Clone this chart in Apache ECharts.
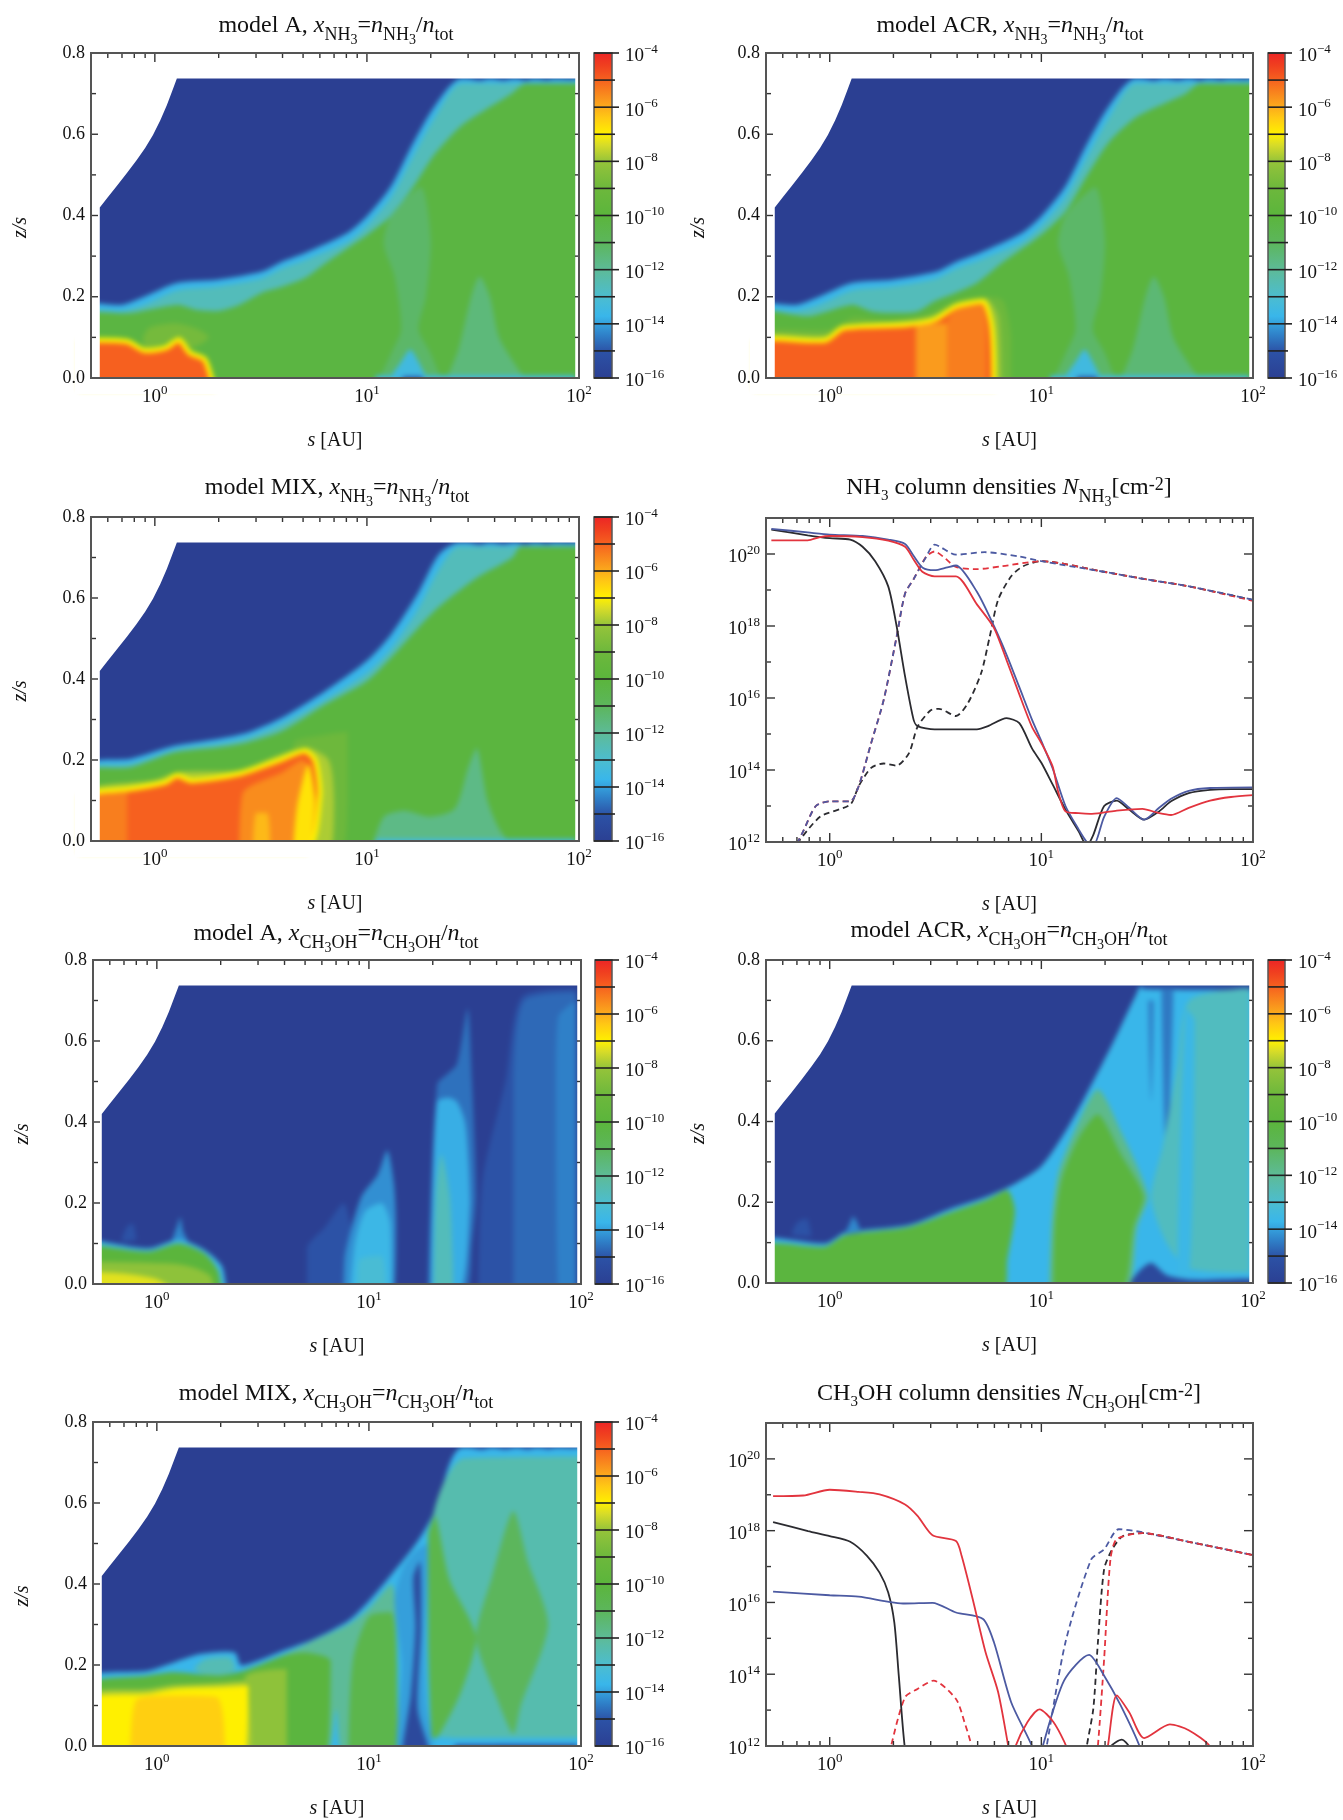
<!DOCTYPE html>
<html><head><meta charset="utf-8">
<style>html,body{margin:0;padding:0;background:#fff}#c{width:1343px;height:1820px;filter:blur(0.5px)}</style>
<script src="https://cdn.jsdelivr.net/npm/echarts@6/dist/echarts.min.js"></script>
</head><body><div id="c"></div>
<script>
// ---------- tick values ----------
const sMajor=[1,10,100];
const sMinor=[0.6,0.7,0.8,0.9,2,3,4,5,6,7,8,9,20,30,40,50,60,70,80,90];
const zMajor=[0,0.2,0.4,0.6,0.8];
const zMinor=[0.1,0.3,0.5,0.7];
const nMajor=[12,14,16,18,20];
const nMinor=[13,15,17,19];
const cbExp=[-16,-14,-12,-10,-8,-6,-4];
const cbMinor=[-15,-13,-11,-9,-7,-5];

// ---------- colour scale: [log10 x, colour] ----------
const scale=[[-16,'#2b3f92'],[-15,'#2c52a6'],[-14.4,'#2f80c8'],[-13.7,'#39b6ea'],[-13,'#4cbdd0'],[-12,'#5dbb98'],[-11,'#5cb65c'],[-10,'#5bb53c'],[-9,'#6db83c'],[-8,'#96c43a'],[-7.4,'#d8dc28'],[-7,'#fff000'],[-6.4,'#ffc814'],[-6,'#fbaa1c'],[-5,'#f6601f'],[-4.5,'#f0401f'],[-4,'#ec2426']];

// ---------- disc outline (white above) ----------
const discS=[0.55,0.6,0.66,0.74,0.82,0.9,0.98,1.06,1.14,1.21,1.27,96];
const discZ=[0.42,0.445,0.472,0.505,0.536,0.566,0.598,0.634,0.672,0.708,0.737,0.737];

// ---------- contour layers: [log10 x, rim log10 x or null, outline [s,z]] ----------
const edgeBlueNH3=[[.5,.176],[.7,.18],[.89,.2],[1.27,.234],[1.98,.242],[3.2,.262],[4,.287],[5.1,.308],[8.1,.357],[10,.398],[13,.472],[16.5,.578],[20.8,.668],[27.7,.737],[100,.737],[100,0],[.5,0]];
const edgeTealNH3=[[.5,.16],[.7,.165],[.89,.18],[1.27,.215],[1.98,.225],[3.2,.245],[4,.27],[5.1,.29],[8.1,.335],[10,.375],[13,.445],[16.5,.545],[20.8,.64],[27.7,.725],[100,.725],[100,0],[.5,0]];
const topScallop=[[28,.74],[30,.737],[34,.731],[38,.737],[44,.732],[50,.737],[56,.732],[62,.737],[70,.733],[78,.737],[90,.735],[100,.74]];

const layersA=[
 [-13.7,null,edgeBlueNH3],[-12.6,null,edgeTealNH3],
 [-10.2,null,[[.5,.152],[.77,.16],[1.27,.18],[1.56,.168],[1.98,.165],[2.5,.18],[3.2,.21],[4,.225],[5.1,.246],[6.4,.283],[8.1,.32],[10,.352],[13,.4],[16.5,.47],[20.8,.55],[27.7,.62],[36,.66],[48,.7],[56,.725],[100,.725],[100,0],[.5,0]]],
 [-11.2,null,[[11,0],[13,.06],[14.5,.12],[13.5,.25],[12,.33],[13,.4],[18,.47],[20,.34],[19,.2],[17.5,.12],[20,.06],[23,0]]],
 [-11.5,null,[[23,0],[27,.07],[31,.2],[34,.25],[38,.2],[42,.1],[52,.02],[60,0]]],
 [-13.4,null,[[12,0],[14.5,.04],[16,.07],[17.5,.04],[20,0]]],
 [-13.4,null,[[11,0],[11,.006],[96,.006],[96,0]]],
 [-15,null,[[14,0],[15,.004],[18,.004],[19,0]]],
 [-15,null,topScallop],
 [-8.8,null,[[.88,.1],[.95,.125],[1.25,.135],[1.6,.12],[1.8,.1],[1.5,.075],[1.2,.09],[.9,.07]]],
 [-5,-7,[[.5,.09],[.74,.09],[.89,.068],[1.12,.074],[1.3,.094],[1.46,.062],[1.72,.045],[1.89,0],[.5,0]]]
];
const layersACR=[
 [-13.7,null,edgeBlueNH3],[-12.6,null,edgeTealNH3],
 [-10.1,null,[[.5,.16],[.79,.152],[1.27,.18],[1.57,.164],[1.98,.16],[2.6,.164],[3.13,.189],[3.95,.21],[4.96,.234],[6.5,.283],[10,.353],[13,.41],[16.5,.5],[20.8,.58],[27.7,.64],[36,.67],[48,.7],[56,.725],[100,.725],[100,0],[.5,0]]],
 [-11.2,null,[[11,0],[13,.06],[14.5,.12],[13.5,.25],[12,.33],[13,.4],[18,.47],[20,.34],[19,.2],[17.5,.12],[20,.06],[23,0]]],
 [-11.4,null,[[23,0],[27,.07],[31,.2],[34,.25],[38,.2],[42,.1],[52,.02],[60,0]]],
 [-13.4,null,[[12,0],[14.5,.04],[16,.07],[17.5,.04],[20,0]]],
 [-13.4,null,[[11,0],[11,.006],[96,.006],[96,0]]],
 [-15,null,[[14,0],[15,.004],[18,.004],[19,0]]],
 [-15,null,topScallop],
 [-9,null,[[.5,.11],[1,.12],[1.3,.15],[2,.14],[3,.16],[4,.19],[5.5,.2],[6.6,.19],[7.2,.1],[7.2,0],[.5,0]]],
 [-8,null,[[.5,.1],[1,.105],[1.3,.13],[3,.15],[4,.185],[5.5,.195],[6.3,.15],[6.5,0],[.5,0]]],
 [-5,-7,[[.5,.09],[.95,.093],[1.16,.123],[2.27,.131],[3.13,.144],[3.95,.176],[5.3,.189],[5.83,.127],[5.97,0],[.5,0]]],
 [-5.8,null,[[2.55,0],[2.55,.125],[3.6,.135],[3.6,0]]],
 [-5.4,null,[[3.6,0],[3.6,.14],[4,.17],[5.2,.18],[5.5,.12],[5.5,0]]]
];
const layersMIXn=[
 [-13.7,null,[[.5,.186],[.77,.203],[1.24,.235],[1.98,.252],[2.75,.268],[4,.305],[6.4,.371],[10,.445],[13,.51],[17.3,.609],[21.8,.707],[27,.737],[100,.737],[100,0],[.5,0]]],
 [-12.6,null,[[.5,.175],[.77,.19],[1.24,.225],[1.98,.24],[2.75,.255],[4,.29],[6.4,.35],[10,.415],[13,.475],[17.3,.57],[21.8,.67],[27,.727],[100,.727],[100,0],[.5,0]]],
 [-10.1,null,[[.5,.17],[.77,.182],[1.24,.219],[1.98,.231],[2.75,.244],[4,.272],[6.4,.338],[10,.395],[13,.453],[20.8,.568],[33,.65],[48.6,.7],[53,.727],[100,.727],[100,0],[.5,0]]],
 [-11.7,null,[[10.5,0],[12,.06],[15,.075],[20,.06],[26,.08],[30,.18],[33,.23],[37,.1],[42,.03],[50,0]]],
 [-13.4,null,[[11,0],[11,.005],[96,.005],[96,0]]],
 [-15,null,topScallop],
 [-9,null,[[4.5,.24],[6,.26],[8.1,.27],[8.1,.1],[7.6,0],[5,0]]],
 [-7.8,null,[[.5,.12],[1,.15],[1.3,.17],[2.5,.175],[4,.215],[5.2,.23],[6.6,.2],[7,.1],[6.7,0],[.5,0]]],
 [-5,-7,[[.5,.108],[.77,.129],[1.12,.145],[1.27,.162],[1.49,.149],[2.5,.166],[4,.203],[5.1,.223],[5.7,.199],[6,.116],[5.1,0],[.5,0]]],
 [-5.4,null,[[.5,0],[.5,.1],[.74,.12],[.74,0]]],
 [-5.6,null,[[2.5,0],[2.6,.12],[4,.17],[5,.2],[5.4,.16],[5.4,.08],[5,0]]],
 [-6.2,null,[[2.9,0],[3,.07],[3.4,.07],[3.5,0]]],
 [-6.8,null,[[4.5,0],[4.7,.09],[5.3,.19],[5.7,.1],[5.3,0]]]
];
const layersAm=[
 [-15,null,[[5.1,0],[5.1,.09],[6.2,.14],[7.6,.2],[8.4,.1],[7.8,0]]],
 [-14.2,null,[[7.6,0],[7.7,.07],[9.2,.215],[11,.27],[12.2,.33],[13.1,.25],[13.4,.15],[13.1,0]]],
 [-13.6,null,[[8.2,0],[8.6,.1],[9.6,.18],[11.5,.2],[12.6,.15],[12.8,0]]],
 [-13.1,null,[[8.8,0],[9,.06],[11.5,.07],[12,0]]],
 [-15,null,[[32.8,0],[34.4,.26],[44,.5],[52.7,.71],[95,.73],[95,0]]],
 [-14.7,null,[[48,0],[48,.5],[54,.7],[95,.72],[95,0]]],
 [-14.4,null,[[78,0],[76,.5],[78,.66],[95,.7],[95,0]]],
 [-14.6,null,[[19,0],[19.5,.18],[21,.494],[23,.515],[26,.543],[29.2,.68],[30.6,.5],[32,.22],[30.6,.1],[28.5,0]]],
 [-13.8,null,[[19.6,0],[19.9,.2],[21,.45],[23.6,.46],[26,.45],[28.4,.4],[29.5,.3],[30,.2],[27,0]]],
 [-12.6,null,[[20.2,0],[20.7,.22],[22,.32],[24,.22],[24.8,.07],[25,0]]],
 [-14.3,null,[[1.18,.105],[1.25,.145],[1.29,.165],[1.33,.13],[1.4,.105]]],
 [-15,null,[[.68,.105],[.72,.14],[.77,.15],[.8,.11]]],
 [-13.6,null,[[.5,.112],[.91,.088],[1.27,.11],[1.68,.084],[2.03,.043],[2.13,0],[.5,0]]],
 [-10,null,[[.5,.098],[.91,.08],[1.27,.1],[1.68,.075],[1.94,.034],[2.03,0],[.5,0]]],
 [-8.2,null,[[.5,.055],[1.2,.05],[1.5,.04],[1.8,.018],[1.85,0],[.5,0]]],
 [-7.3,null,[[.5,.03],[.72,.025],[1,.012],[1.3,0],[.5,0]]]
];
const layersACRm=[
 [-13.7,null,[[.5,.107],[.95,.098],[1.19,.127],[1.43,.131],[2.37,.144],[3.77,.185],[5.45,.213],[7.5,.246],[9.9,.287],[12.5,.361],[15.7,.451],[21.6,.591],[28,.714],[29.8,.737],[100,.737],[100,0],[.5,0]]],
 [-14.3,null,[[1.18,.12],[1.25,.15],[1.29,.165],[1.35,.15],[1.4,.125]]],
 [-15,null,[[.66,.12],[.7,.15],[.78,.16],[.82,.115]]],
 [-15.4,null,[[29.8,.737],[100,.737],[100,.725],[29.8,.728]]],
 [-14.4,null,[[32,.7],[33,.45],[34,.7]]],[-14.5,null,[[37,.73],[38,.42],[39,.25],[40.5,.45],[42,.73]]],
 [-12.7,null,[[33,.213],[37.5,.34],[44,.54],[50,.7],[96,.73],[96,.025],[50,.035],[39,.1]]],
 [-13.6,null,[[44,.02],[50,.02],[53,.65],[48,.68]]],
 [-15.5,null,[[24,0],[29,.03],[33,.05],[39,.02],[52,.008],[100,.008],[100,0]]],
 [-10.1,null,[[.5,.094],[.95,.09],[1.19,.119],[2.37,.139],[3.77,.176],[5.45,.205],[6.9,.23],[7.5,.18],[6.9,.057],[6.5,0],[.5,0]]],
 [-11.8,null,[[10.9,0],[11.2,.15],[12,.27],[15,.4],[18.5,.48],[24,.37],[31.9,.213],[28.4,.14],[25,0]]],
 [-10.1,null,[[11.4,0],[11.6,.15],[12.5,.26],[15,.36],[18.5,.418],[23.7,.32],[30.5,.213],[27.4,.14],[23.7,0]]]
];
const layersMIXm=[
 [-13.7,null,[[.5,.166],[.91,.186],[1.21,.207],[1.6,.227],[2.33,.231],[2.5,.199],[3.93,.235],[5.5,.264],[8,.309],[10,.358],[12.8,.424],[17,.506],[20.5,.58],[27.2,.737],[100,.737],[100,0],[.5,0]]],
 [-12.5,null,[[1.5,.19],[1.7,.215],[2.2,.22],[2.35,.19],[1.9,.17]]],
 [-15,null,topScallop],
 [-12.4,null,[[20,.56],[27.5,.71],[100,.715],[100,.02],[25,.02],[21,.03]]],
 [-12,null,[[3.5,.2],[5,.25],[8,.3],[10,.34],[12.8,.4],[13.4,.3],[13.6,.15],[13.8,0],[7.6,0],[7,.09],[6.3,0],[3.5,0]]],
 [-10.5,null,[[8,0],[8.4,.21],[10,.32],[12.8,.33],[13.6,.2],[13.6,0]]],
 [-14,null,[[13.6,0],[14.3,.2],[13.2,.36],[14.5,.44],[16.5,.48],[18.8,.5],[18.3,.25],[18.6,.1],[20.5,0]]],
 [-15.5,null,[[14.3,0],[15.8,.129],[16.6,.293],[16.2,.416],[17.4,.457],[17.6,.293],[17,.09],[19.5,0]]],
 [-10.5,null,[[19.8,.02],[19,.25],[19,.52],[20.5,.57],[24,.41],[32,.268],[27,.13],[21,.02]]],
 [-11,null,[[32,.268],[38,.416],[48,.58],[56,.457],[70,.3],[52,.1],[48,.03],[40,.12]]],
 [-13.7,null,[[25,0],[25,.008],[96,.01],[96,0]]],
 [-15.5,null,[[24,0],[26,.003],[96,.004],[96,0]]],
 [-10.1,null,[[.5,.149],[.91,.174],[1.21,.182],[1.94,.174],[2.57,.186],[3.93,.223],[5,.231],[6.6,.21],[6.3,0],[.5,0]]],
 [-8.2,null,[[2.6,.17],[4.1,.19],[4.1,0],[2.6,0]]],
 [-7.8,null,[[.5,.125],[.91,.14],[1.21,.15],[1.94,.155],[2.6,.16],[2.8,0],[.5,0]]],
 [-7,null,[[.5,.112],[.91,.129],[1.21,.141],[1.94,.145],[2.7,.149],[2.6,0],[.5,0]]],
 [-6.5,null,[[.75,0],[.8,.115],[1.21,.125],[1.94,.12],[2.1,0]]]
];

// ---------- column densities: [s, log10 N] ----------
const nh3Black=[[.53,20.68],[.787,20.52],[1,20.44],[1.25,20.4],[1.43,20.2],[1.64,19.8],[1.89,19.1],[2.07,18],[2.27,16.6],[2.49,15.4],[2.6,15.22],[3.13,15.13],[3.95,15.13],[4.96,15.13],[5.6,15.22],[6.85,15.44],[7.87,15.3],[9.03,14.6],[10,14.2],[11.3,13.6],[13,12.9],[15,12.3],[16.4,11.9],[17.6,12.2],[19.8,13],[22.7,13.15],[26,12.9],[30.6,12.62],[36,12.85],[41,13.13],[49.7,13.36],[62.7,13.45],[78.7,13.47],[100,13.47]];
const nh3Blue=[[.53,20.7],[.787,20.6],[1,20.54],[1.43,20.5],[1.89,20.4],[2.27,20.28],[2.49,19.95],[2.75,19.62],[3.13,19.55],[3.6,19.63],[3.95,19.68],[4.96,18.95],[5.97,18],[6.85,17.2],[7.87,16.3],[9.03,15.4],[10,14.8],[11.3,14.05],[13,13],[15,12.35],[16.4,12],[17.6,11.9],[19.8,12.7],[22.7,13.22],[26,12.95],[30.6,12.62],[36,12.95],[41,13.2],[49.7,13.42],[62.7,13.5],[100,13.52]];
const nh3Red=[[.53,20.38],[.787,20.38],[.9,20.47],[1,20.5],[1.43,20.47],[1.89,20.37],[2.27,20.2],[2.49,19.85],[2.75,19.5],[3.13,19.38],[3.95,19.38],[4.96,18.6],[5.97,17.95],[6.85,17.05],[7.87,16.1],[9.03,15.2],[10,14.75],[11.3,14.1],[12,13.4],[13,12.85],[15,12.8],[17,12.78],[19.8,12.82],[22.7,12.87],[30,12.92],[36,12.8],[41,12.75],[49.7,12.95],[62.7,13.15],[78.7,13.25],[100,13.3]];
const nh3BlueD=[[.7,11.95],[.75,12.3],[.86,13],[1,13.13],[1.25,13.13],[1.37,13.55],[1.57,14.75],[1.8,15.95],[2.07,17.7],[2.27,18.9],[2.49,19.3],[2.86,19.93],[3.13,20.26],[3.95,19.98],[5.4,20.05],[7.87,19.93],[10,19.8],[20,19.5],[31,19.3],[50,19.1],[100,18.73]];
const nh3RedD=[[.7,11.95],[.75,12.3],[.86,13],[1,13.13],[1.25,13.13],[1.37,13.55],[1.57,14.75],[1.8,15.95],[2.07,17.7],[2.27,18.9],[2.49,19.3],[2.86,19.93],[3.13,20.07],[3.43,19.93],[3.95,19.64],[4.96,19.58],[6.5,19.66],[10,19.8],[20,19.5],[31,19.3],[50,19.1],[100,18.7]];
const nh3BlackD=[[.7,11.95],[.9,12.7],[1.25,13.04],[1.37,13.55],[1.57,14.06],[1.8,14.18],[2.07,14.12],[2.37,14.47],[2.6,15.2],[3,15.66],[3.28,15.7],[3.95,15.5],[4.5,15.86],[5.2,16.7],[5.7,17.7],[6.25,18.73],[7.2,19.38],[8.2,19.66],[10,19.8],[20,19.5],[31,19.3],[50,19.1],[100,18.72]];

const ch3Black=[[.54,18.24],[.79,17.99],[1,17.85],[1.25,17.69],[1.5,17.3],[1.72,16.83],[1.89,16.28],[2.02,15.44],[2.12,13.96],[2.27,11.9],[2.4,11.5],[20,11.5],[21.2,11.98],[24,12.18],[26,11.98],[27,11.5],[100,11.5]];
const ch3Blue=[[.54,16.3],[1,16.2],[1.37,16.16],[2.27,15.97],[3.06,15.99],[3.95,15.72],[5.3,15.54],[5.97,14.89],[7.2,13.22],[9.1,11.95],[9.4,11.5],[9.8,11.5],[10.1,11.95],[12.8,13.82],[16.8,14.54],[19.8,13.96],[23.7,13.13],[29.3,11.95],[30,11.5],[100,11.5]];
const ch3Red=[[.54,18.96],[.75,18.98],[1,19.14],[1.37,19.08],[1.72,19.01],[2.27,18.73],[2.6,18.41],[3.06,17.87],[3.95,17.71],[4.2,17.3],[4.74,16.09],[5.45,14.61],[6.25,13.5],[7,11.95],[7.2,11.5],[7.3,11.5],[7.5,11.95],[8.6,12.67],[9.8,13.02],[11.4,12.67],[13.2,11.95],[13.5,11.5],[20,11.5],[20.6,11.98],[22.7,13.41],[26,12.94],[30.6,12.22],[40.5,12.6],[49.7,12.44],[62.7,11.98],[64,11.5],[100,11.5]];
const ch3BlueD=[[10.3,11.5],[10.6,12],[13,14.89],[17.2,17.2],[19.8,17.48],[23.2,18.04],[30,17.96],[31.5,17.93],[49.7,17.69],[100,17.32]];
const ch3BlackD=[[16.1,11.5],[16.4,12],[17.6,13.04],[18.5,14.89],[19.8,16.93],[21.6,17.48],[24.3,17.85],[30,17.93],[49.7,17.69],[100,17.32]];
const ch3RedD=[[1.9,11.5],[1.95,12],[2.27,13.36],[2.6,13.59],[3.09,13.82],[3.95,13.31],[4.33,12.67],[4.68,12],[4.8,11.5],[18,11.5],[18.5,12],[19.8,14.43],[21.2,17.2],[22.7,17.76],[30,17.93],[49.7,17.69],[100,17.32]];

// ---------- text ----------
const labelS='{si|s}{sr| [AU]}';

// ---------- helpers ----------
function hex(c){return [1,3,5].map(i=>parseInt(c.substr(i,2),16));}
function colorOf(v){
  if(v<=scale[0][0])return scale[0][1];
  for(let i=1;i<scale.length;i++){
    if(v<=scale[i][0]){
      const t=(v-scale[i-1][0])/(scale[i][0]-scale[i-1][0]),a=hex(scale[i-1][1]),b=hex(scale[i][1]);
      return 'rgb('+a.map((x,k)=>Math.round(x+(b[k]-x)*t)).join(',')+')';
    }
  }
  return scale[scale.length-1][1];
}
const F='"Liberation Serif",serif',INK='#111',FW='normal';
const tr={fontFamily:F,fontSize:24,fontWeight:FW,color:INK,lineHeight:25,verticalAlign:'top'};
const sb={fontFamily:F,fontSize:18,fontWeight:FW,color:INK,lineHeight:17,verticalAlign:'top',padding:[12,0,0,0]};
const titleRich={
  r:{...tr},i:{...tr,fontStyle:'italic'},
  s:{...sb},si:{...sb,fontStyle:'italic'},
  u:{...sb,fontSize:14,lineHeight:13,padding:[19,0,0,0]},
  v:{...sb,fontSize:15,lineHeight:15,padding:[13,0,0,0]},
  e:{...sb,fontSize:18,lineHeight:17,padding:[0,0,0,0]}
};
const axRich={b:{fontFamily:F,fontSize:19,color:INK,lineHeight:20,verticalAlign:'top',padding:[4,0,0,0]},
              x:{fontFamily:F,fontSize:13,color:INK,lineHeight:14,verticalAlign:'top',padding:[0,0,0,0]},
              si:{fontFamily:F,fontSize:20,fontStyle:'italic',color:INK},sr:{fontFamily:F,fontSize:20,color:INK}};
const NH='{s|NH}{u|3}',CH='{s|CH}{u|3}{s|OH}';
const heatTitle=(m,sp)=>`{r|model ${m}, }{i|x}${sp}{r|=}{i|n}${sp}{r|/}{i|n}{s|tot}`;

// ---------- layout ----------
const L=[91,579],R=[766,1253],BL=[594,612],BR=[1268,1285];
const panels=[
 {k:'heat',x:L,y:[53,378],bar:BL,layers:layersA,t:heatTitle('A',NH),tx:331,ty:9},
 {k:'heat',x:R,y:[53,378],bar:BR,layers:layersACR,t:heatTitle('ACR',NH),tx:1005,ty:9},
 {k:'heat',x:L,y:[517,841],bar:BL,layers:layersMIXn,t:heatTitle('MIX',NH),tx:332,ty:471},
 {k:'line',x:R,y:[518,842],t:`{r|NH}{v|3}{r| column densities }{i|N}${NH}{r|[cm}{e|-2}{r|]}`,tx:1004,ty:471,
  lines:[[nh3BlackD,'k',1],[nh3RedD,'r',1],[nh3BlueD,'b',1],[nh3Black,'k',0],[nh3Blue,'b',0],[nh3Red,'r',0]]},
 {k:'heat',x:[93,581],y:[960,1284],bar:[595,612],layers:layersAm,t:heatTitle('A',CH),tx:331,ty:917},
 {k:'heat',x:R,y:[960,1283],bar:BR,layers:layersACRm,t:heatTitle('ACR',CH),tx:1004,ty:914},
 {k:'heat',x:[93,581],y:[1422,1746],bar:[595,612],layers:layersMIXm,t:heatTitle('MIX',CH),tx:331,ty:1377},
 {k:'line',x:R,y:[1423,1747],t:`{r|CH}{v|3}{r|OH column densities }{i|N}${CH}{r|[cm}{e|-2}{r|]}`,tx:1004,ty:1377,
  lines:[[ch3BlackD,'k',1],[ch3BlueD,'b',1],[ch3RedD,'r',1],[ch3Black,'k',0],[ch3Blue,'b',0],[ch3Red,'r',0]]}
];
const lineCol={k:'#2b2b30',b:'#4c5aa2',r:'#e2343e'};
const grids=[],xAxes=[],yAxes=[],series=[],titles=[];
const FRAME='#555',OUT=10;

function expLabel(e){return '{b|10}{x|'+String(e).replace('-','\u2212')+'}';}

panels.forEach(p=>{
  titles.push({zlevel:1,text:p.t,left:p.tx,top:p.ty,textAlign:'center',textStyle:{rich:titleRich,fontFamily:F,fontSize:24,fontWeight:FW,color:INK}});
  const g=grids.length;
  grids.push({left:p.x[0],width:p.x[1]-p.x[0],top:p.y[0],height:p.y[1]-p.y[0],show:false});
  const isLine=p.k==='line';
  xAxes.push({gridIndex:g,type:'log',logBase:10,min:.5,max:100,zlevel:1,z:10,
    name:labelS,nameLocation:'middle',nameGap:53,nameTextStyle:{rich:axRich,fontFamily:F,fontSize:20,color:INK},
    axisLine:{show:false},axisTick:{show:false},splitLine:{show:false},minorSplitLine:{show:false},
    axisLabel:{margin:6,showMinLabel:true,showMaxLabel:true,rich:axRich,formatter:v=>{const e=Math.log10(v);return Math.abs(e-Math.round(e))<1e-6?expLabel(Math.round(e)):'';}}});
  if(isLine){
    yAxes.push({gridIndex:g,type:'log',logBase:10,min:1e12,max:1e21,interval:1,zlevel:1,z:10,
      axisLine:{show:false},axisTick:{show:false},splitLine:{show:false},
      axisLabel:{margin:6,rich:axRich,formatter:v=>{const e=Math.round(Math.log10(v));return (e%2===0&&e<=20)?expLabel(e):'';}}});
  }else{
    yAxes.push({gridIndex:g,type:'value',min:0,max:.8,interval:.2,zlevel:1,z:10,
      name:'z/s',nameLocation:'middle',nameGap:p.x[0]===766?57:60,nameRotate:90,
      nameTextStyle:{fontFamily:F,fontStyle:'italic',fontSize:20,color:INK,padding:[0,24,0,0]},
      axisLine:{show:false},axisTick:{show:false},splitLine:{show:false},
      axisLabel:{margin:6,fontFamily:F,fontSize:18,color:INK,formatter:v=>v.toFixed(1)}});
  }
  const yMin=isLine?1e12:0,yMax=isLine?1e21:.8;
  const base=[1,isLine?1e13:.1];
  if(!isLine){
    const all=[[-16,null,[[.5,0],[.5,.8],[100,.8],[100,0]]]].concat(p.layers);
    // layers sit on their own canvas (zlevel 0) that gets a soft blur below
    series.push({type:'custom',xAxisIndex:g,yAxisIndex:g,clip:false,silent:true,zlevel:0,z:2,data:all.map(()=>base),
      renderItem:(pa,api)=>{
        const l=all[pa.dataIndex],c=colorOf(l[0]);
        const pts=l[2].map(q=>{const P=api.coord(q).slice();
          if(q[1]===0)P[1]+=OUT; if(q[0]<=.5)P[0]-=OUT; if(q[0]>=100)P[0]+=OUT; return P;});
        const xs=pts.map(P=>P[0]),ys=pts.map(P=>P[1]);
        const box=[[Math.min(...xs),Math.min(...ys)],[Math.max(...xs),Math.max(...ys)]];
        const st={fill:c};
        if(l[1]!==null){st.stroke=colorOf(l[1]);st.lineWidth=5;st.lineJoin='round';}
        return {type:'polygon',shape:{points:pts,smooth:pa.dataIndex?.25:0,smoothConstraint:box},style:st};
      }});
    const mask=[[.5,0],[discS[0],0]].concat(discS.map((s,i)=>[s,discZ[i]])).concat([[96,0],[100,0],[100,.8],[.5,.8]]);
    series.push({type:'custom',xAxisIndex:g,yAxisIndex:g,clip:false,silent:true,zlevel:1,z:3,data:[base,base],
      renderItem:(pa,api)=>{
        if(pa.dataIndex===0)return {type:'polygon',shape:{points:mask.map(q=>api.coord(q))},style:{fill:'#fff'}};
        const a=api.coord([.5,.8]),b=api.coord([100,0]),T=16;
        // white ring that trims the blurred layer at the plot box
        return {type:'rect',shape:{x:a[0]-T/2,y:a[1]-T/2,width:b[0]-a[0]+T,height:b[1]-a[1]+T},style:{fill:'none',stroke:'#fff',lineWidth:T}};
      }});
  }else{
    p.lines.forEach(l=>{
      series.push({type:'line',xAxisIndex:g,yAxisIndex:g,showSymbol:false,symbol:'none',smooth:.25,clip:true,silent:true,zlevel:1,z:3,
        data:l[0].map(q=>[q[0],Math.pow(10,q[1])]),
        lineStyle:{color:lineCol[l[1]],width:1.8,type:l[2]?[6,4]:'solid'}});
    });
  }
  const yT=isLine?nMajor.map(e=>[Math.pow(10,e),1]).concat(nMinor.map(e=>[Math.pow(10,e),0])):zMajor.map(v=>[v,1]).concat(zMinor.map(v=>[v,0]));
  const xT=sMajor.map(v=>[v,1]).concat(sMinor.map(v=>[v,0]));
  const ticks=xT.map(t=>['x',t[0],t[1]]).concat(yT.map(t=>['y',t[0],t[1]]));
  series.push({type:'custom',xAxisIndex:g,yAxisIndex:g,clip:false,silent:true,zlevel:1,z:5,data:ticks.map(()=>base).concat([base]),
    renderItem:(pa,api)=>{
      const a=api.coord([.5,yMax]),b=api.coord([100,yMin]);
      if(pa.dataIndex===ticks.length){
        return {type:'rect',shape:{x:a[0],y:a[1],width:b[0]-a[0],height:b[1]-a[1]},style:{fill:'none',stroke:FRAME,lineWidth:2}};
      }
      const t=ticks[pa.dataIndex],len=t[2]?9:5,ls={stroke:'#333',lineWidth:1.4};
      if(t[0]==='x'){
        const X=api.coord([t[1],yMin])[0],kids=[{type:'line',shape:{x1:X,y1:a[1],x2:X,y2:a[1]+len},style:ls}];
        if(isLine)kids.push({type:'line',shape:{x1:X,y1:b[1],x2:X,y2:b[1]-len},style:ls});
        return {type:'group',children:kids};
      }
      const Y=api.coord([.5,t[1]])[1],rl=isLine?len:4,ll=isLine?len:Math.min(len,7);
      return {type:'group',children:[
        {type:'line',shape:{x1:a[0],y1:Y,x2:a[0]+ll,y2:Y},style:ls},
        {type:'line',shape:{x1:b[0],y1:Y,x2:b[0]-rl,y2:Y},style:ls}]};
    }});
  if(!isLine){
    const gb=grids.length;
    grids.push({left:p.bar[0],width:p.bar[1]-p.bar[0],top:p.y[0],height:p.y[1]-p.y[0],show:false});
    xAxes.push({gridIndex:gb,type:'value',min:0,max:1,show:false});
    yAxes.push({gridIndex:gb,type:'value',min:-16,max:-4,interval:2,position:'right',zlevel:1,z:10,
      axisLine:{show:false},axisTick:{show:false},splitLine:{show:false},
      axisLabel:{margin:13,rich:axRich,formatter:v=>expLabel(v)}});
    const cbT=cbExp.map(e=>[e,1]).concat(cbMinor.map(e=>[e,0]));
    const stops=scale.map(q=>({offset:(q[0]+16)/12,color:q[1]}));
    series.push({type:'custom',xAxisIndex:gb,yAxisIndex:gb,clip:false,silent:true,zlevel:1,z:4,data:[[.5,-10]].concat(cbT.map(()=>[.5,-10])),
      renderItem:(pa,api)=>{
        const a=api.coord([0,-4]),b=api.coord([1,-16]);
        if(pa.dataIndex===0)return {type:'rect',shape:{x:a[0],y:a[1],width:b[0]-a[0],height:b[1]-a[1]},
          style:{fill:new echarts.graphic.LinearGradient(0,1,0,0,stops),stroke:FRAME,lineWidth:1.5}};
        const t=cbT[pa.dataIndex-1],Y=api.coord([0,t[0]])[1];
        return {type:'line',shape:{x1:a[0],y1:Y,x2:b[0]+(t[1]?7:3),y2:Y},style:{stroke:'#222',lineWidth:1.6}};
      }});
  }
});

const chart=echarts.init(document.getElementById('c'),null,{renderer:'canvas',width:1343,height:1820});
chart.setOption({animation:false,backgroundColor:'transparent',title:titles,grid:grids,xAxis:xAxes,yAxis:yAxes,series:series});
const bottom=document.querySelector('canvas[data-zr-dom-id="zr_0"]');
if(bottom)bottom.style.filter='blur(2.5px)';
</script></body></html>
